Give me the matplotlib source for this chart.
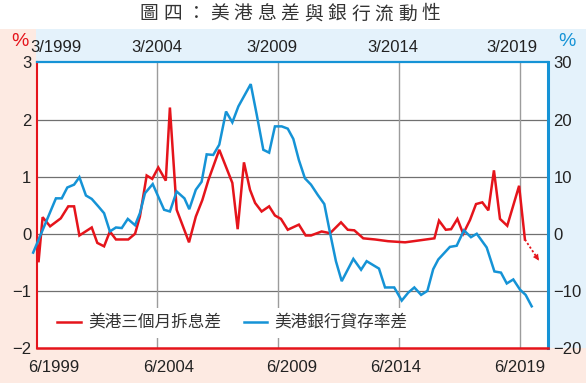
import matplotlib
matplotlib.use("Agg")
import matplotlib.pyplot as plt
from matplotlib.patches import Rectangle
from matplotlib.transforms import blended_transform_factory

# ---------------- data ----------------
title = "圖四：美港息差與銀行流動性"
red_label = "美港三個月拆息差"
blue_label = "美港銀行貸存率差"

red_x = [1999.21, 1999.27, 1999.44, 1999.75, 2000.19, 2000.50, 2000.74, 2000.96,
         2001.47, 2001.70, 2001.98, 2002.22, 2002.47, 2002.98, 2003.26, 2003.46,
         2003.74, 2003.97, 2004.22, 2004.53, 2004.70, 2004.98, 2005.49, 2005.77,
         2006.04, 2006.29, 2006.74, 2007.28, 2007.50, 2007.76, 2008.01, 2008.22,
         2008.49, 2008.80, 2009.04, 2009.29, 2009.57, 2010.03, 2010.31, 2010.53,
         2010.97, 2011.32, 2011.77, 2012.05, 2012.32, 2012.69, 2013.18, 2013.71,
         2014.42, 2015.63, 2015.82, 2016.10, 2016.32, 2016.58, 2016.82, 2017.10,
         2017.35, 2017.61, 2017.86, 2018.09, 2018.34, 2018.64, 2019.13, 2019.37]
red_y = [-0.05, -0.50, 0.29, 0.13, 0.27, 0.48, 0.48, -0.03,
         0.11, -0.16, -0.22, 0.04, -0.10, -0.10, 0.00, 0.30,
         1.02, 0.96, 1.16, 0.93, 2.21, 0.42, -0.15, 0.30,
         0.59, 0.94, 1.47, 0.89, 0.08, 1.25, 0.77, 0.54,
         0.39, 0.48, 0.32, 0.26, 0.07, 0.16, -0.03, -0.03,
         0.04, 0.01, 0.20, 0.07, 0.06, -0.08, -0.10, -0.13,
         -0.15, -0.08, 0.23, 0.07, 0.08, 0.26, 0.00, 0.24,
         0.52, 0.55, 0.41, 1.11, 0.26, 0.14, 0.84, -0.10]

forecast_x = [2019.37, 2019.95]
forecast_y = [-0.10, -0.47]

blue_x = [1999.05, 1999.99, 2000.23, 2000.46, 2000.74, 2000.96, 2001.23, 2001.47,
          2001.74, 2001.98, 2002.22, 2002.47, 2002.71, 2002.96, 2003.26, 2003.46,
          2003.67, 2003.99, 2004.46, 2004.70, 2004.98, 2005.30, 2005.50, 2005.77,
          2006.01, 2006.22, 2006.49, 2006.74, 2007.02, 2007.28, 2007.53, 2008.04,
          2008.29, 2008.56, 2008.80, 2009.04, 2009.32, 2009.57, 2009.80, 2010.03,
          2010.28, 2010.53, 2010.81, 2011.08, 2011.32, 2011.56, 2011.80, 2012.28,
          2012.60, 2012.83, 2013.34, 2013.59, 2013.97, 2014.28, 2014.55, 2014.80,
          2015.08, 2015.34, 2015.58, 2015.79, 2016.27, 2016.55, 2016.85, 2017.14,
          2017.38, 2017.79, 2018.11, 2018.38, 2018.62, 2018.89, 2019.17, 2019.40,
          2019.65]
blue_y = [-3.3, 6.2, 6.2, 8.1, 8.6, 9.9, 6.7, 6.1,
          4.8, 3.6, 0.4, 1.1, 1.0, 2.6, 1.5, 3.6,
          7.1, 8.7, 4.2, 3.9, 7.4, 6.2, 4.3, 7.7,
          9.1, 13.9, 13.8, 15.6, 21.4, 19.5, 22.3, 26.2,
          20.8, 14.7, 14.2, 18.8, 18.8, 18.4, 16.6, 12.9,
          9.7, 8.6, 6.8, 5.2, 0.1, -4.8, -8.3, -4.4,
          -6.3, -4.8, -6.1, -9.4, -9.4, -11.7, -10.3, -9.4,
          -10.7, -10.0, -6.2, -4.5, -2.3, -2.1, 0.6, -0.6,
          0.0, -2.4, -6.6, -6.8, -8.7, -8.0, -9.8, -10.7,
          -12.7]

left_ticks = [-2, -1, 0, 1, 2, 3]
right_ticks = [-20, -10, 0, 10, 20, 30]
grid_x = [2004.17, 2009.17, 2014.17, 2019.17]
top_labels = ["3/1999", "3/2004", "3/2009", "3/2014", "3/2019"]
top_label_x = [1999.99, 2004.17, 2008.92, 2013.92, 2018.84]
bottom_labels = ["6/1999", "6/2004", "6/2009", "6/2014", "6/2019"]
bottom_label_x = [1999.91, 2004.66, 2009.74, 2014.04, 2019.17]

# ---------------- style ----------------
RED = "#e5141b"
BLUE = "#1593d6"
PINK = "#fdeae2"
LBLUE = "#e4f2fb"
TXT = "#222222"
CJK = ["Noto Sans CJK TC", "DejaVu Sans"]
plt.rcParams["font.family"] = ["Liberation Sans", "DejaVu Sans"]

W, H = 586, 383
fig = plt.figure(figsize=(W / 100, H / 100), dpi=100)
fig.patch.set_facecolor("white")


def fx(px):
    return px / W


def fy(py):
    return 1 - py / H


# background bands (drawn beneath everything)
bands = [
    ((0, 0), fx(36), fy(29), PINK),
    ((0, 0), 1, fy(348), PINK),
    ((fx(36), fy(61)), 1 - fx(36), fy(29) - fy(61), LBLUE),
    ((fx(548), fy(348)), 1 - fx(548), fy(29) - fy(348), LBLUE),
]
for xy, w, h, c in bands:
    fig.patches.append(Rectangle(xy, w, h, transform=fig.transFigure,
                                 facecolor=c, edgecolor="none", zorder=-10))

ax = fig.add_axes([fx(37), fy(348), (548 - 37) / W, (348 - 62.4) / H])
ax.set_facecolor("white")
ax.set_xlim(1999.208, 2020.324)
ax.set_ylim(-2, 3)
ax2 = ax.twinx()
ax2.set_ylim(-20, 30)
ax2.patch.set_visible(False)

for v in left_ticks[1:-1]:
    ax.axhline(v, color="#707070", lw=0.9, zorder=1)
for gx in grid_x:
    ax.axvline(gx, color="#9c9c9c", lw=1.0, zorder=1)

line_r, = ax.plot(red_x, red_y, color=RED, lw=1.8, zorder=3, label=red_label,
                  solid_joinstyle="miter")
ax.plot(forecast_x, forecast_y, color=RED, lw=1.3, ls=(0, (1.2, 1.2)), zorder=3)
fxm = forecast_x[0] + 0.6 * (forecast_x[1] - forecast_x[0])
fym = forecast_y[0] + 0.6 * (forecast_y[1] - forecast_y[0])
ax.annotate("", xy=(forecast_x[1], forecast_y[1]), xytext=(fxm, fym),
            arrowprops=dict(arrowstyle="-|>,head_length=0.45,head_width=0.22",
                            color=RED, lw=0.01, shrinkA=0, shrinkB=0), zorder=3)

line_b, = ax2.plot(blue_x, blue_y, color=BLUE, lw=1.8, zorder=3, label=blue_label,
                   clip_on=False, solid_joinstyle="miter")

# ticks
ax.set_xticks([])
ax.set_yticks(left_ticks)
ax.set_yticklabels([str(v).replace("-", "\u2212") for v in left_ticks])
ax2.set_yticks(right_ticks)
ax2.set_yticklabels([str(v).replace("-", "\u2212") for v in right_ticks])
ax.tick_params(axis="y", length=0, pad=4, labelsize=12, labelcolor=TXT)
ax2.tick_params(axis="y", length=0, pad=4, labelsize=12, labelcolor=TXT)

for s in ax.spines.values():
    s.set_visible(False)
ax2.spines["left"].set_color(RED)
ax2.spines["left"].set_linewidth(1.5)
ax2.spines["bottom"].set_color(RED)
ax2.spines["bottom"].set_linewidth(1.8)
ax2.spines["top"].set_color(BLUE)
ax2.spines["top"].set_linewidth(1.6)
ax2.spines["right"].set_color(BLUE)
ax2.spines["right"].set_linewidth(2.2)

# top / bottom date labels
tr = blended_transform_factory(ax.transData, fig.transFigure)
for lab, xv in zip(top_labels, top_label_x):
    ax.text(xv, fy(47), lab, transform=tr, ha="center", va="center",
            fontsize=12, color=TXT, clip_on=False)
for lab, xv in zip(bottom_labels, bottom_label_x):
    ax.text(xv, fy(367), lab, transform=tr, ha="center", va="center",
            fontsize=12, color=TXT, clip_on=False)

# percent signs
fig.text(fx(19.5), fy(41), "%", color=RED, fontsize=14, ha="center", va="center")
fig.text(fx(566.5), fy(41), "%", color=BLUE, fontsize=14, ha="center", va="center")

# title, letter-spaced
for i, ch in enumerate(title):
    fig.text(fx(149 + 23.5 * i), fy(14), ch, family=CJK, fontsize=13.5,
             color="#333333", ha="center", va="center")

# legend
leg = ax2.legend(handles=[line_r, line_b], loc="center left",
                 bbox_to_anchor=(0.0266, 0.0865), ncol=2, frameon=True,
                 fancybox=False, borderaxespad=0, borderpad=0.4,
                 handlelength=1.4, handletextpad=0.45, columnspacing=1.35,
                 prop={"family": CJK, "size": 12})
leg.get_frame().set_facecolor("white")
leg.get_frame().set_edgecolor("none")
leg.get_frame().set_alpha(1)
for t in leg.get_texts():
    t.set_color("#333333")
leg.set_zorder(5)

fig.savefig("out.png", dpi=100)
